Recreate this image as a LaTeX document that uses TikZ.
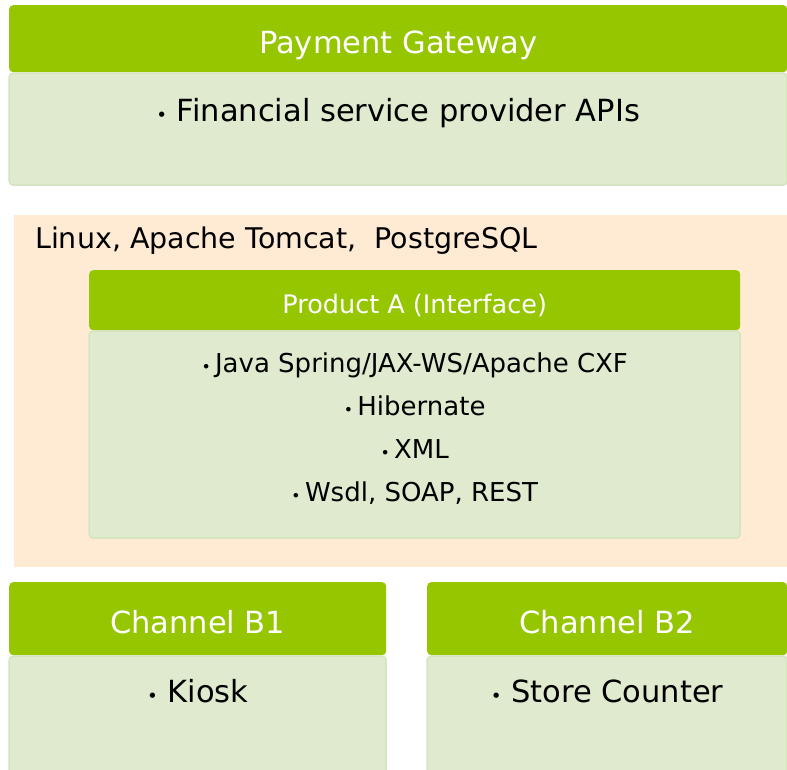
\documentclass[tikz,border=0pt]{standalone}
\usepackage{fontspec}
\setmainfont{DejaVu Sans}
\usetikzlibrary{positioning}
\definecolor{headgreen}{HTML}{95C600}
\definecolor{bodygreen}{HTML}{DFEACF}
\definecolor{edgegreen}{HTML}{D3E4BE}
\definecolor{peach}{HTML}{FFEBD4}
\newcommand{\bul}{\scalebox{0.6}{•}}

\begin{document}
\begin{tikzpicture}[x = 1pt, y = -1pt,
		head/.style  = { fill = headgreen, rounded corners = 4pt, anchor = north west, inner sep = 0pt, text = white, text height = 29pt, text depth = 0pt },
		body/.style  = { fill = bodygreen, draw = edgegreen, line width = 1.5pt, rounded corners = 4pt, inner sep = 0pt },
		item/.style  = { inner sep = 0pt, align = center },
		big/.style   = { font = \fontsize{30.5}{36}\selectfont },
		small/.style = { font = \fontsize{25.5}{30}\selectfont }]
		\useasboundingbox (0,0) rectangle (787,770);

		\node [head, big, minimum width = 778pt, minimum height = 67pt] (pghead) at (9,5) {Payment Gateway};
		\node [body, below = 0pt of pghead, minimum width = 778pt, minimum height = 112pt] (pgbody) {};
		\node [item, big, below = 26pt of pghead] (pgitem) {\bul\ Financial service provider APIs};

		\node [fill = peach, anchor = north west, inner sep = 0pt, minimum width = 773pt, minimum height = 352pt] (host) at (14,215) {};
		\node [item, font = \fontsize{28.5}{34}\selectfont, below right = 12pt and 21pt of host.north west, anchor = north west] (hosttxt) {Linux, Apache Tomcat,\ \ PostgreSQL};

		\node [head, small, text height = 26pt, minimum width = 651pt, minimum height = 60pt] (prodhead) at (89,270) {Product A (Interface)};
		\node [body, below = 0pt of prodhead, minimum width = 651pt, minimum height = 207pt] (prodbody) {};
		\node [item, font = \fontsize{26}{43}\selectfont, below = 22pt of prodhead] (proditems)
			{\bul\,Java Spring/JAX-WS/Apache CXF\\ \bul\,Hibernate\\ \bul\,XML\\ \bul\,Wsdl, SOAP, REST};

		\node [head, big, minimum width = 377pt, minimum height = 73pt] (b1head) at (9,582) {Channel B1};
		\node [body, below = 0pt of b1head, minimum width = 377pt, minimum height = 130pt] (b1body) {};
		\node [item, big, below = 24pt of b1head] (b1item) {\bul\ Kiosk};

		\node [head, big, minimum width = 360pt, minimum height = 73pt] (b2head) at (427,582) {Channel B2};
		\node [body, below = 0pt of b2head, minimum width = 360pt, minimum height = 130pt] (b2body) {};
		\node [item, big, below = 24pt of b2head] (b2item) {\bul\ Store Counter};
	\end{tikzpicture}
\end{document}
